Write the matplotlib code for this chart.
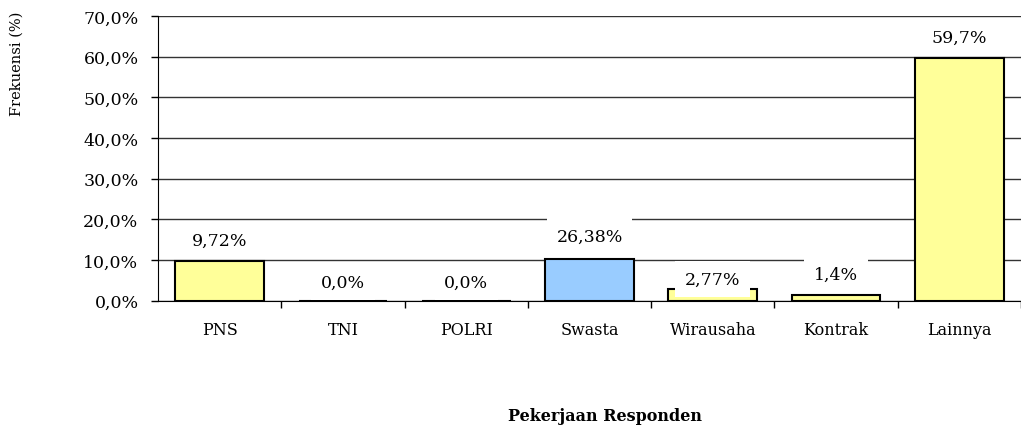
import matplotlib
matplotlib.use("Agg")
import matplotlib.pyplot as plt

categories = ["PNS", "TNI", "POLRI", "Swasta", "Wirausaha", "Kontrak", "Lainnya"]
bar_heights = [9.72, 0.0, 0.0, 10.3, 2.8, 1.4, 59.7]
bar_labels = ["9,72%", "0,0%", "0,0%", "26,38%", "2,77%", "1,4%", "59,7%"]
yticks = [0, 10, 20, 30, 40, 50, 60, 70]
ytick_labels = ["0,0%", "10,0%", "20,0%", "30,0%", "40,0%", "50,0%", "60,0%", "70,0%"]

YELLOW = "#FFFF99"
BLUE = "#99CCFF"
colors = [BLUE if c == "Swasta" else YELLOW for c in categories]
label_offsets = [15, 13, 13, 16, 7, 15, 15]

plt.rcParams["font.family"] = ["DejaVu Serif"]

W, H = 1021, 427
fig = plt.figure(figsize=(W / 100, H / 100), dpi=100)
left, right, bottom, top = 158, 1021, 301.5, 17
ax = fig.add_axes([left / W, 1 - bottom / H, (right - left) / W, (bottom - top) / H])

x = list(range(len(categories)))
ax.bar(x, bar_heights, width=0.72, color=colors, edgecolor="black", linewidth=1.5, zorder=3)

ax.set_ylim(0, 70)
ax.set_xlim(-0.5, 6.477)
ax.set_yticks(yticks)
ax.set_yticklabels(ytick_labels, fontsize=12.5)
ax.set_xticks(x)
ax.set_xticklabels(categories, fontsize=11.5)
ax.set_xticks([i + 0.5 for i in range(len(categories))], minor=True)
ax.tick_params(axis="x", which="major", length=0, pad=15)
ax.tick_params(axis="x", which="minor", length=5, width=1, direction="out")
ax.tick_params(axis="y", length=5, width=1, direction="out", pad=9)

ax.grid(axis="y", color="#333333", linewidth=1, zorder=0)
for s in ["top", "right"]:
    ax.spines[s].set_visible(False)
ax.spines["left"].set_color("black")
ax.spines["bottom"].set_color("black")
ax.spines["left"].set_zorder(4)
ax.spines["bottom"].set_zorder(4)

for xi, h, lab, off in zip(x, bar_heights, bar_labels, label_offsets):
    ax.annotate(lab, (xi, h), xytext=(0, off), textcoords="offset points",
                ha="center", va="center", fontsize=12.5, zorder=5,
                bbox=dict(boxstyle="square,pad=0.55", facecolor="white", edgecolor="none"))

fig.text(17 / W, 1 - 64 / H, "Frekuensi (%)", rotation=90, ha="center", va="center", fontsize=10.5)
fig.text(605 / W, 1 - 417 / H, "Pekerjaan Responden", ha="center", va="center",
         fontsize=11.5, fontweight="bold")

fig.savefig("out.png", dpi=100, facecolor="white")
